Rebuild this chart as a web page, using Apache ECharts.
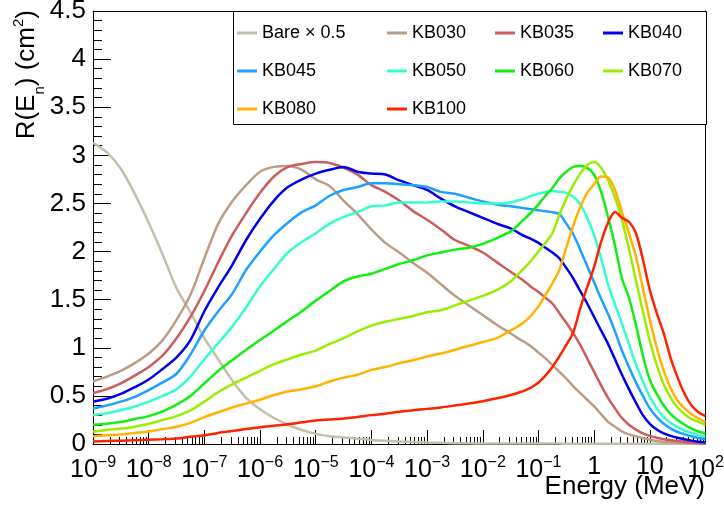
<!DOCTYPE html>
<html><head><meta charset="utf-8">
<script src="https://cdn.jsdelivr.net/npm/echarts@6/dist/echarts.min.js"></script>
<style>html,body{margin:0;padding:0;background:#fff}#c{width:724px;height:516px}</style>
</head><body><div id="c"></div>
<script>
// log10 of neutron energy (MeV) at which the curves are sampled
const logE = [-9,-8.75,-8.5,-8.25,-8,-7.75,-7.5,-7.25,-7,-6.75,-6.5,-6.25,-6,-5.75,-5.5,-5.25,-5,-4.75,-4.5,-4.25,-4,-3.75,-3.5,-3.25,-3,-2.75,-2.5,-2.25,-2,-1.75,-1.5,
  -1.375,-1.25,-1.125,-1,-0.875,-0.75,-0.625,-0.5,-0.375,-0.25,-0.125,0,0.125,0.25,0.375,0.5,0.625,0.75,0.875,1,1.125,1.25,1.375,1.5,1.625,1.75,1.875,2];

const bare = [3.13,3.03,2.86,2.60,2.30,1.97,1.62,1.37,1.10,0.88,0.66,0.48,0.36,0.27,0.20,0.145,0.105,0.08,0.068,0.055,0.042,0.033,0.026,0.02,0.015,0.012,0.009,0.007,0.006,0.005,0.005,
  0.005,0.004,0.004,0.004,0.004,0.004,0.004,0.003,0.003,0.003,0.003,0.003,0.003,0.003,0.003,0.003,0.003,0.003,0.003,0.003,0.002,0.002,0.002,0.002,0.002,0.002,0.002,0.002];
const kb030 = [0.65,0.70,0.76,0.84,0.94,1.08,1.29,1.55,1.93,2.29,2.52,2.69,2.83,2.88,2.89,2.85,2.75,2.68,2.53,2.39,2.23,2.09,1.99,1.88,1.78,1.66,1.54,1.44,1.34,1.24,1.15,
  1.10,1.06,1.01,0.95,0.89,0.82,0.75,0.68,0.60,0.53,0.46,0.39,0.31,0.23,0.18,0.13,0.10,0.08,0.06,0.045,0.032,0.022,0.017,0.013,0.010,0.008,0.006,0.005];
const kb035 = [0.53,0.57,0.63,0.71,0.80,0.92,1.10,1.32,1.59,1.89,2.17,2.40,2.61,2.78,2.88,2.91,2.93,2.92,2.87,2.80,2.69,2.62,2.53,2.42,2.33,2.23,2.12,2.06,1.99,1.89,1.79,
  1.74,1.69,1.63,1.58,1.52,1.46,1.36,1.26,1.15,1.03,0.89,0.75,0.61,0.48,0.37,0.27,0.20,0.15,0.11,0.085,0.065,0.05,0.04,0.03,0.022,0.015,0.01,0.007];
const kb040 = [0.44,0.47,0.52,0.59,0.67,0.78,0.90,1.08,1.38,1.63,1.86,2.12,2.34,2.53,2.67,2.75,2.81,2.85,2.88,2.83,2.81,2.80,2.74,2.69,2.64,2.55,2.47,2.41,2.35,2.29,2.24,
  2.20,2.16,2.13,2.09,2.04,1.99,1.93,1.83,1.72,1.59,1.46,1.32,1.18,1.04,0.88,0.72,0.57,0.43,0.30,0.21,0.15,0.11,0.085,0.065,0.05,0.035,0.024,0.015];
const kb045 = [0.37,0.40,0.44,0.49,0.56,0.64,0.73,0.93,1.18,1.38,1.56,1.81,2.00,2.17,2.30,2.41,2.48,2.58,2.64,2.67,2.71,2.71,2.70,2.69,2.67,2.62,2.60,2.56,2.52,2.49,2.47,
  2.46,2.45,2.44,2.43,2.42,2.41,2.39,2.29,2.18,2.02,1.85,1.68,1.51,1.35,1.17,0.97,0.80,0.64,0.50,0.37,0.28,0.21,0.16,0.125,0.10,0.08,0.062,0.05];
const kb050 = [0.30,0.32,0.35,0.39,0.44,0.50,0.57,0.70,0.88,1.05,1.22,1.42,1.64,1.82,1.99,2.10,2.19,2.29,2.36,2.41,2.47,2.48,2.51,2.51,2.51,2.52,2.52,2.51,2.50,2.50,2.51,
  2.53,2.55,2.58,2.60,2.62,2.63,2.62,2.61,2.57,2.49,2.35,2.17,1.93,1.66,1.45,1.25,1.04,0.83,0.65,0.49,0.37,0.28,0.22,0.175,0.14,0.115,0.09,0.076];
const kb060 = [0.20,0.21,0.23,0.26,0.29,0.34,0.41,0.50,0.63,0.76,0.87,0.98,1.08,1.18,1.28,1.38,1.49,1.59,1.69,1.74,1.77,1.82,1.87,1.91,1.96,1.99,2.02,2.04,2.08,2.14,2.21,
  2.27,2.34,2.41,2.49,2.58,2.66,2.76,2.83,2.88,2.89,2.87,2.80,2.62,2.36,2.06,1.72,1.52,1.24,0.92,0.665,0.52,0.40,0.31,0.25,0.20,0.16,0.13,0.11];
const kb070 = [0.13,0.145,0.16,0.18,0.21,0.25,0.29,0.35,0.44,0.54,0.62,0.69,0.76,0.83,0.88,0.93,0.97,1.04,1.10,1.17,1.23,1.27,1.30,1.33,1.37,1.39,1.44,1.49,1.54,1.60,1.69,
  1.76,1.83,1.91,2.00,2.09,2.19,2.38,2.55,2.69,2.81,2.90,2.93,2.87,2.74,2.56,2.33,2.03,1.70,1.38,1.07,0.82,0.62,0.48,0.38,0.31,0.26,0.23,0.20];
const kb080 = [0.08,0.09,0.10,0.115,0.13,0.155,0.18,0.22,0.28,0.33,0.38,0.42,0.46,0.51,0.545,0.57,0.60,0.65,0.69,0.72,0.77,0.80,0.84,0.87,0.91,0.94,0.98,1.02,1.06,1.10,1.18,
  1.22,1.27,1.34,1.43,1.55,1.67,1.81,2.04,2.27,2.46,2.61,2.70,2.78,2.77,2.64,2.41,2.19,1.95,1.62,1.29,1.00,0.76,0.58,0.45,0.37,0.31,0.265,0.23];
const kb100 = [0.025,0.03,0.035,0.04,0.045,0.05,0.058,0.075,0.09,0.115,0.135,0.155,0.175,0.19,0.205,0.225,0.245,0.255,0.265,0.28,0.30,0.315,0.335,0.35,0.365,0.38,0.40,0.42,0.445,0.475,0.51,
  0.53,0.555,0.59,0.64,0.71,0.80,0.91,1.03,1.16,1.41,1.63,1.84,2.10,2.30,2.41,2.35,2.31,2.19,1.92,1.60,1.36,1.15,0.89,0.69,0.52,0.40,0.33,0.29];

const names = ['Bare \u00d7 0.5','KB030','KB035','KB040','KB045','KB050','KB060','KB070','KB080','KB100'];
const seriesValues = [bare,kb030,kb035,kb040,kb045,kb050,kb060,kb070,kb080,kb100];
const colors = ['#c3bfab','#bb9c84','#cd5c5c','#0000ee','#1ea0ff','#33ffcc','#11ee11','#99ee00','#ffb300','#ff2200'];

// axis ticks: x decades (exponents); legend columns
const decadeExp = [-9,-8,-7,-6,-5,-4,-3,-2,-1,0,1,2];
const legendColumns = [['Bare \u00d7 0.5','KB045','KB080'],['KB030','KB050','KB100'],['KB035','KB060'],['KB040','KB070']];
const legendLeft = [237,387,495,603];

const FONT = '"Liberation Sans", Arial, Helvetica, sans-serif';
const energy = logE.map(e => Math.pow(10, e));
const majorTicks = decadeExp.map(e => Math.pow(10, e));
const minorTicks = [];
decadeExp.slice(0, -1).forEach(e => { for (let m = 2; m <= 9; m++) minorTicks.push(m * Math.pow(10, e)); });

function xFmt(v) {
  const e = Math.round(Math.log10(v));
  if (e === 0) return '{b|1}';
  if (e === 1) return '{b|10}';
  return '{b|10}{s|' + (e < 0 ? '\u2212' + (-e) : String(e)) + '}';
}

const black = {color: '#000', width: 1};
const hiddenY = {type: 'value', min: 0, max: 4.5, interval: 0.5, position: 'left',
  axisLine: {show: false, onZero: false}, axisLabel: {show: false}, splitLine: {show: false}};

const chart = echarts.init(document.getElementById('c'), null, {renderer: 'canvas'});
chart.setOption({
  animation: false,
  backgroundColor: '#fff',
  grid: {left: 93, right: 18.5, top: 11, bottom: 72, show: false, containLabel: false, outerBoundsMode: 'none'},
  xAxis: [{
    type: 'log', logBase: 10, min: 1e-9, max: 100,
    axisLine: {show: true, onZero: false, lineStyle: black},
    axisTick: {show: true, inside: true, length: 14, lineStyle: black, customValues: majorTicks},
    minorTick: {show: false},
    splitLine: {show: false},
    axisLabel: {show: true, margin: 11, customValues: majorTicks, formatter: xFmt,
      rich: {
        b: {fontSize: 25, fontFamily: FONT, color: '#000'},
        s: {fontSize: 16, fontFamily: FONT, color: '#000', padding: [0, 0, 14, 0]}
      }}
  }, {
    type: 'log', logBase: 10, min: 1e-9, max: 100, position: 'bottom',
    axisLine: {show: false}, axisLabel: {show: false}, splitLine: {show: false},
    axisTick: {show: true, inside: true, length: 7, lineStyle: black, customValues: minorTicks}
  }, {
    type: 'log', logBase: 10, min: 1e-9, max: 100, position: 'top',
    axisLine: {show: true, onZero: false, lineStyle: black},
    axisTick: {show: false}, axisLabel: {show: false}, splitLine: {show: false}
  }],
  yAxis: [{
    type: 'value', min: 0, max: 4.5, interval: 0.5, position: 'left',
    axisLine: {show: true, onZero: false, lineStyle: black},
    axisTick: {show: true, inside: true, length: 18, lineStyle: black},
    minorTick: {show: true, splitNumber: 5, length: 9, lineStyle: black},
    splitLine: {show: false},
    axisLabel: {margin: 7, fontSize: 26, fontFamily: FONT, color: '#000'}
  }, {
    type: 'value', min: 0, max: 4.5, interval: 0.5, position: 'right',
    axisLine: {show: true, onZero: false, lineStyle: black},
    axisTick: {show: false}, axisLabel: {show: false}, splitLine: {show: false}
  },
  // helper axes shifted into the plot: their outward ticks end on the left frame
  Object.assign({}, hiddenY, {offset: -18, axisTick: {show: true, inside: false, length: 18, lineStyle: black}, minorTick: {show: false}}),
  Object.assign({}, hiddenY, {offset: -9, axisTick: {show: false}, minorTick: {show: true, splitNumber: 5, length: 9, lineStyle: black}})
  ],
  legend: legendColumns.map((col, k) => ({
    orient: 'vertical', left: legendLeft[k], top: 23, data: col, icon: 'rect',
    itemWidth: 20, itemHeight: 3, itemGap: 18, padding: 0, selectedMode: false,
    textStyle: {fontSize: 18, fontFamily: FONT, color: '#000', lineHeight: 20}
  })),
  graphic: [
    {type: 'rect', z: 3, shape: {x: 233.5, y: 11.5, width: 473, height: 113}, style: {fill: '#fff', stroke: '#000', lineWidth: 1}},
    {type: 'text', z: 5, x: 27, y: 10, rotation: Math.PI / 2,
      style: {text: '{m|R(E}{sub|n}{m|) (cm}{sup|2}{m|)}', align: 'right', verticalAlign: 'middle',
        rich: {
          m: {fontSize: 26, fontFamily: FONT, fill: '#000'},
          sub: {fontSize: 15, fontFamily: FONT, fill: '#000', padding: [26, 0, 0, 0]},
          sup: {fontSize: 15, fontFamily: FONT, fill: '#000', padding: [0, 0, 16, 0]}
        }}},
    {type: 'text', z: 5, x: 705, y: 487,
      style: {text: 'Energy (MeV)', fontSize: 26, fontFamily: FONT, fill: '#000', align: 'right', verticalAlign: 'middle'}}
  ],
  series: names.map((n, i) => ({
    name: n, type: 'line', xAxisIndex: 0, yAxisIndex: 0,
    data: energy.map((x, j) => [x, seriesValues[i][j]]),
    showSymbol: false, symbol: 'none', smooth: 0.3,
    lineStyle: {width: 2.5, color: colors[i]}, itemStyle: {color: colors[i]},
    emphasis: {disabled: true}
  }))
});
</script></body></html>
